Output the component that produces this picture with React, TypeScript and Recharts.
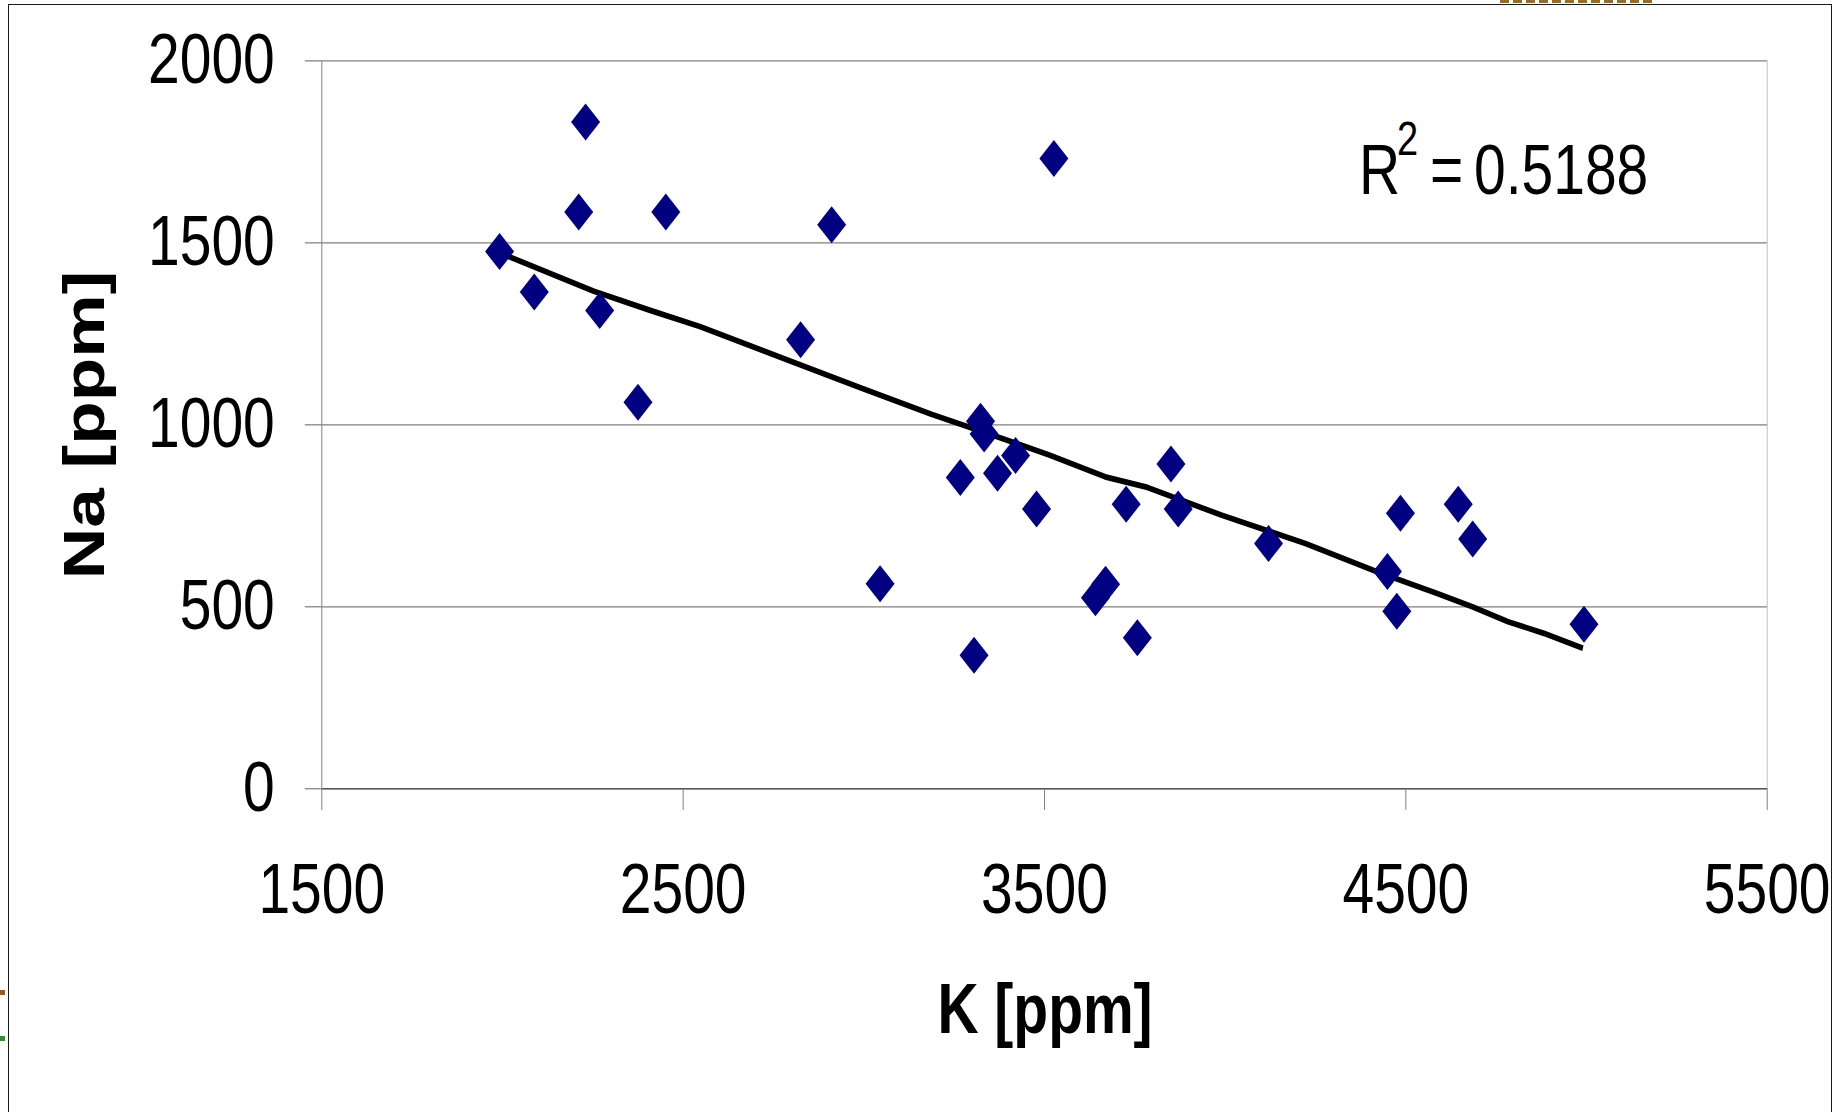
import React from 'react';
import {
  ComposedChart,
  Scatter,
  Line,
  XAxis,
  YAxis,
  CartesianGrid,
  ReferenceLine,
  Customized,
} from 'recharts';

// ---- data ----
const K_VALUES = [
  1992, 2088, 2211, 2230, 2269, 2375, 2452, 2825, 2911, 3045, 3267, 3305, 3323, 3333,
  3370, 3420, 3478, 3526, 3641, 3669, 3726, 3757, 3850, 3870, 4120, 4449, 4475, 4485,
  4645, 4685, 4993,
];
const NA_VALUES = [
  1476, 1365, 1585, 1832, 1314, 1062, 1585, 1234, 1550, 563, 855, 367, 1010, 975,
  867, 916, 769, 1732, 525, 562, 782, 415, 892, 769, 674, 597, 488, 757,
  782, 686, 452,
];
const TREND_K = [
  1991, 2253, 2413, 2546, 2807, 2987, 3187, 3347, 3513, 3668, 3785, 3989, 4222, 4420,
  4585, 4684, 4783, 4882, 4990,
];
const TREND_NA = [
  1473, 1367, 1313, 1270, 1171, 1103, 1029, 975, 917, 857, 828, 752, 674, 596,
  537, 500, 459, 427, 386,
];
const X_TICKS = [1500, 2500, 3500, 4500, 5500];
const Y_TICKS = [0, 500, 1000, 1500, 2000];
const X_LABEL = 'K [ppm]';
const Y_LABEL = 'Na [ppm]';
const R2_LABEL = '0.5188';

const points = K_VALUES.map((k, i) => ({ k, na: NA_VALUES[i] }));
const trend = TREND_K.map((k, i) => ({ k, na: TREND_NA[i] }));

// ---- layout (unstretched space; whole chart stretched vertically by S) ----
const S = 1.25;
const W = 1835;
const H = 1112 / S;
const FONT = '"Liberation Sans", Arial, Helvetica, sans-serif';
const FS = 57;

const Diamond = (props: any) => {
  const { cx, cy } = props;
  if (cx == null || cy == null) return <g />;
  const w = 14.5;
  const h = 14.8;
  return (
    <polygon
      points={`${cx},${cy - h} ${cx + w},${cy} ${cx},${cy + h} ${cx - w},${cy}`}
      fill="#000080"
    />
  );
};

const XTick = (props: any) => {
  const { x, y, payload } = props;
  return (
    <text x={x} y={y + 82.6} textAnchor="middle" fontFamily={FONT} fontSize={FS} fill="#000">
      {payload.value}
    </text>
  );
};

const YTick = (props: any) => {
  const { x, y, payload } = props;
  return (
    <text x={x - 30} y={y + 17.8} textAnchor="end" fontFamily={FONT} fontSize={FS} fill="#000">
      {payload.value}
    </text>
  );
};

const Labels = () => (
  <g>
    <text
      x={104.5}
      y={340}
      transform="rotate(-90, 104.5, 340)"
      textAnchor="middle"
      fontFamily={FONT}
      fontWeight="bold"
      fontSize={FS}
      fill="#000"
    >
      {Y_LABEL}
    </text>
    <text
      x={1045}
      y={826.2}
      textAnchor="middle"
      fontFamily={FONT}
      fontWeight="bold"
      fontSize={FS}
      fill="#000"
    >
      {X_LABEL}
    </text>
    <text y={155.1} fontFamily={FONT} fontSize={FS} fill="#000">
      <tspan x={1359}>R</tspan>
      <tspan x={1397} dy={-31} fontSize={38}>
        2
      </tspan>
      <tspan x={1430} dy={31}>
        =
      </tspan>
      <tspan x={1474}>{R2_LABEL}</tspan>
    </text>
  </g>
);

export default function App() {
  return (
    <div
      style={{
        position: 'absolute',
        left: 0,
        top: 0,
        width: W,
        height: 1112,
        overflow: 'hidden',
        background: '#fff',
      }}
    >
      <div
        style={{
          position: 'absolute',
          left: 7.5,
          top: 3.5,
          width: 1824,
          height: 1200,
          border: '1.8px solid #1a1a1a',
          boxSizing: 'border-box',
        }}
      />
      <div
        style={{
          position: 'absolute',
          left: 1500,
          top: 0,
          width: 155,
          height: 3,
          background:
            'repeating-linear-gradient(90deg, #9a6a2a 0px, #9a6a2a 9px, transparent 9px, transparent 13px)',
        }}
      />
      <div style={{ position: 'absolute', left: 0, top: 990, width: 5, height: 5, background: '#9a5a1a' }} />
      <div style={{ position: 'absolute', left: 0, top: 1036, width: 5, height: 5, background: '#3a8a3a' }} />
      <div
        style={{
          position: 'absolute',
          left: 0,
          top: 0,
          width: W,
          height: H,
          transform: `scaleY(${S})`,
          transformOrigin: '0 0',
        }}
      >
        <ComposedChart
          width={W}
          height={H}
          margin={{ top: 48.7, right: 67.8, left: 0, bottom: H - 631 - 150 }}
        >
          <CartesianGrid horizontal vertical={false} stroke="#7f7f7f" strokeWidth={1} />
          <ReferenceLine x={5500} stroke="#c0c0c0" strokeWidth={1} />
          <XAxis
            type="number"
            dataKey="k"
            domain={[1500, 5500]}
            ticks={X_TICKS}
            allowDataOverflow
            height={150}
            tickSize={17}
            tickMargin={0}
            axisLine={{ stroke: '#555', strokeWidth: 1.3 }}
            tickLine={{ stroke: '#808080', strokeWidth: 1 }}
            tick={<XTick />}
            interval={0}
          />
          <YAxis
            type="number"
            domain={[0, 2000]}
            ticks={Y_TICKS}
            allowDataOverflow
            width={321.8}
            tickSize={17}
            tickMargin={0}
            axisLine={{ stroke: '#808080', strokeWidth: 1 }}
            tickLine={{ stroke: '#808080', strokeWidth: 1 }}
            tick={<YTick />}
            interval={0}
          />
          <Scatter data={points} dataKey="na" shape={<Diamond />} isAnimationActive={false} />
          <Line
            data={trend}
            dataKey="na"
            type="linear"
            stroke="#000"
            strokeWidth={4.6}
            strokeLinejoin="round"
            dot={false}
            activeDot={false}
            isAnimationActive={false}
          />
          <Customized component={<Labels />} />
        </ComposedChart>
      </div>
    </div>
  );
}
